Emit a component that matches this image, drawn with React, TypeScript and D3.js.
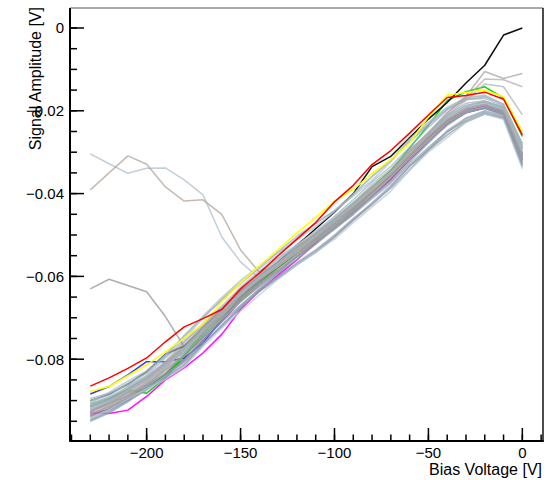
import React from "react";
import * as d3 from "d3";

const voltages = [-230,-220,-210,-200,-190,-180,-170,-160,-150,-140,-130,-120,-110,-100,-90,-80,-70,-60,-50,-40,-30,-20,-10,0];

const xMajorTicks = [-200, -150, -100, -50, 0];
const yMajorTicks = [0, -0.02, -0.04, -0.06, -0.08];
const xTitle = "Bias Voltage [V]";
const yTitle = "Signal Amplitude [V]";

// bundle of grey-ish channels
const g1 = [-0.0945,-0.0924,-0.0898,-0.0868,-0.0843,-0.0812,-0.0764,-0.0717,-0.0676,-0.0635,-0.0602,-0.0569,-0.0539,-0.0504,-0.0464,-0.0422,-0.0380,-0.0334,-0.0292,-0.0248,-0.0217,-0.0200,-0.0211,-0.0330];
const g2 = [-0.0910,-0.0894,-0.0866,-0.0845,-0.0807,-0.0765,-0.0722,-0.0677,-0.0637,-0.0595,-0.0558,-0.0527,-0.0497,-0.0458,-0.0422,-0.0378,-0.0340,-0.0294,-0.0253,-0.0210,-0.0182,-0.0176,-0.0191,-0.0285];
const g3 = [-0.0925,-0.0910,-0.0882,-0.0860,-0.0821,-0.0778,-0.0736,-0.0697,-0.0652,-0.0611,-0.0574,-0.0543,-0.0512,-0.0474,-0.0442,-0.0405,-0.0360,-0.0310,-0.0270,-0.0228,-0.0200,-0.0187,-0.0206,-0.0320];
const g4 = [-0.0900,-0.0887,-0.0860,-0.0830,-0.0794,-0.0751,-0.0701,-0.0655,-0.0615,-0.0581,-0.0548,-0.0508,-0.0472,-0.0441,-0.0406,-0.0368,-0.0323,-0.0272,-0.0231,-0.0194,-0.0167,-0.0164,-0.0186,-0.0280];
const g5 = [-0.0935,-0.0914,-0.0896,-0.0865,-0.0827,-0.0793,-0.0748,-0.0700,-0.0654,-0.0620,-0.0588,-0.0550,-0.0514,-0.0486,-0.0450,-0.0405,-0.0362,-0.0317,-0.0268,-0.0230,-0.0202,-0.0190,-0.0208,-0.0325];
const g6 = [-0.0920,-0.0905,-0.0876,-0.0852,-0.0812,-0.0775,-0.0732,-0.0683,-0.0642,-0.0608,-0.0568,-0.0535,-0.0504,-0.0465,-0.0430,-0.0392,-0.0355,-0.0302,-0.0256,-0.0218,-0.0194,-0.0185,-0.0196,-0.0305];
const g7 = [-0.0948,-0.0927,-0.0900,-0.0870,-0.0839,-0.0802,-0.0750,-0.0705,-0.0659,-0.0625,-0.0592,-0.0559,-0.0522,-0.0485,-0.0450,-0.0412,-0.0374,-0.0329,-0.0288,-0.0250,-0.0224,-0.0206,-0.0216,-0.0335];
const g8 = [-0.0915,-0.0900,-0.0878,-0.0845,-0.0805,-0.0760,-0.0716,-0.0675,-0.0634,-0.0600,-0.0567,-0.0530,-0.0494,-0.0463,-0.0428,-0.0390,-0.0352,-0.0307,-0.0261,-0.0218,-0.0189,-0.0177,-0.0193,-0.0292];
const g9 = [-0.0930,-0.0917,-0.0890,-0.0858,-0.0825,-0.0787,-0.0743,-0.0703,-0.0662,-0.0623,-0.0585,-0.0547,-0.0517,-0.0486,-0.0445,-0.0402,-0.0360,-0.0314,-0.0273,-0.0236,-0.0204,-0.0192,-0.0204,-0.0315];
const g10 = [-0.0905,-0.0884,-0.0858,-0.0835,-0.0791,-0.0743,-0.0698,-0.0658,-0.0618,-0.0578,-0.0540,-0.0503,-0.0472,-0.0441,-0.0400,-0.0358,-0.0320,-0.0275,-0.0234,-0.0196,-0.0174,-0.0166,-0.0184,-0.0282];
const g11 = [-0.0940,-0.0920,-0.0893,-0.0862,-0.0836,-0.0807,-0.0762,-0.0722,-0.0676,-0.0637,-0.0604,-0.0572,-0.0542,-0.0505,-0.0464,-0.0427,-0.0384,-0.0334,-0.0295,-0.0258,-0.0227,-0.0208,-0.0218,-0.0332];
const g12 = [-0.0922,-0.0902,-0.0883,-0.0858,-0.0820,-0.0777,-0.0726,-0.0685,-0.0645,-0.0605,-0.0568,-0.0537,-0.0507,-0.0476,-0.0435,-0.0393,-0.0350,-0.0299,-0.0258,-0.0220,-0.0192,-0.0180,-0.0198,-0.0310];
const g13 = [-0.0895,-0.0882,-0.0863,-0.0840,-0.0797,-0.0757,-0.0713,-0.0672,-0.0626,-0.0587,-0.0555,-0.0523,-0.0492,-0.0455,-0.0415,-0.0372,-0.0334,-0.0288,-0.0240,-0.0198,-0.0172,-0.0170,-0.0188,-0.0288];
const g14 = [-0.0932,-0.0912,-0.0886,-0.0855,-0.0815,-0.0770,-0.0720,-0.0680,-0.0640,-0.0607,-0.0575,-0.0543,-0.0512,-0.0480,-0.0440,-0.0398,-0.0355,-0.0310,-0.0268,-0.0226,-0.0197,-0.0184,-0.0201,-0.0315];
const g15 = [-0.0950,-0.0930,-0.0903,-0.0872,-0.0846,-0.0815,-0.0765,-0.0719,-0.0672,-0.0632,-0.0600,-0.0567,-0.0536,-0.0500,-0.0460,-0.0424,-0.0387,-0.0342,-0.0295,-0.0252,-0.0220,-0.0203,-0.0214,-0.0328];
const g16 = [-0.0912,-0.0892,-0.0873,-0.0848,-0.0815,-0.0780,-0.0736,-0.0690,-0.0644,-0.0603,-0.0570,-0.0538,-0.0500,-0.0463,-0.0422,-0.0385,-0.0348,-0.0302,-0.0256,-0.0213,-0.0187,-0.0179,-0.0191,-0.0290];
const g17 = [-0.0928,-0.0907,-0.0888,-0.0865,-0.0833,-0.0790,-0.0740,-0.0695,-0.0650,-0.0617,-0.0585,-0.0553,-0.0522,-0.0483,-0.0442,-0.0398,-0.0355,-0.0305,-0.0263,-0.0226,-0.0202,-0.0194,-0.0210,-0.0322];
const g18 = [-0.0908,-0.0890,-0.0868,-0.0842,-0.0810,-0.0773,-0.0728,-0.0687,-0.0640,-0.0600,-0.0562,-0.0525,-0.0490,-0.0458,-0.0425,-0.0388,-0.0350,-0.0305,-0.0260,-0.0218,-0.0190,-0.0182,-0.0198,-0.0300];
const g19 = [-0.0938,-0.0922,-0.0900,-0.0875,-0.0843,-0.0805,-0.0756,-0.0710,-0.0670,-0.0630,-0.0592,-0.0553,-0.0517,-0.0480,-0.0445,-0.0408,-0.0370,-0.0324,-0.0278,-0.0233,-0.0204,-0.0192,-0.0206,-0.0318];
const g20 = [-0.0902,-0.0880,-0.0853,-0.0828,-0.0789,-0.0745,-0.0696,-0.0651,-0.0610,-0.0575,-0.0543,-0.0511,-0.0480,-0.0444,-0.0403,-0.0360,-0.0318,-0.0268,-0.0228,-0.0191,-0.0170,-0.0162,-0.0184,-0.0278];
const g21 = [-0.0942,-0.0922,-0.0896,-0.0872,-0.0849,-0.0819,-0.0770,-0.0725,-0.0684,-0.0645,-0.0607,-0.0572,-0.0542,-0.0510,-0.0470,-0.0432,-0.0394,-0.0344,-0.0300,-0.0265,-0.0228,-0.0208,-0.0221,-0.0340];

// coloured channels
const redCh = [-0.0865,-0.0845,-0.0822,-0.0797,-0.0758,-0.0722,-0.0702,-0.0680,-0.0630,-0.0592,-0.0550,-0.0510,-0.0470,-0.0420,-0.0380,-0.0330,-0.0296,-0.0254,-0.0210,-0.0168,-0.0163,-0.0155,-0.0172,-0.0258];
const yellowCh = [-0.0878,-0.0866,-0.0840,-0.0814,-0.0782,-0.0749,-0.0715,-0.0662,-0.0616,-0.0575,-0.0535,-0.0495,-0.0458,-0.0418,-0.0390,-0.0352,-0.0318,-0.0278,-0.0215,-0.0162,-0.0156,-0.0150,-0.0166,-0.0250];
const blackCh = [-0.0900,-0.0885,-0.0860,-0.0830,-0.0788,-0.0768,-0.0725,-0.0680,-0.0635,-0.0600,-0.0565,-0.0525,-0.0485,-0.0445,-0.0400,-0.0335,-0.0310,-0.0265,-0.0220,-0.0180,-0.0133,-0.0090,-0.0017,0.0000];
const greenCh = [-0.0908,-0.0893,-0.0874,-0.0882,-0.0846,-0.0790,-0.0738,-0.0690,-0.0645,-0.0607,-0.0570,-0.0534,-0.0498,-0.0462,-0.0423,-0.0384,-0.0345,-0.0290,-0.0235,-0.0175,-0.0154,-0.0142,-0.0169,-0.0262];
const magentaCh = [-0.0929,-0.0931,-0.0923,-0.0890,-0.0850,-0.0821,-0.0785,-0.0740,-0.0680,-0.0635,-0.0597,-0.0560,-0.0520,-0.0485,-0.0445,-0.0405,-0.0365,-0.0315,-0.0268,-0.0226,-0.0198,-0.0188,-0.0205,-0.0310];
const blueCh = [-0.0884,-0.0866,-0.0838,-0.0806,-0.0806,-0.0797,-0.0761,-0.0705,-0.0650,-0.0610,-0.0572,-0.0538,-0.0505,-0.0470,-0.0432,-0.0392,-0.0352,-0.0304,-0.0260,-0.0220,-0.0195,-0.0185,-0.0200,-0.0305];
const cyanCh = [-0.0915,-0.0898,-0.0872,-0.0845,-0.0810,-0.0785,-0.0737,-0.0690,-0.0640,-0.0602,-0.0566,-0.0532,-0.0498,-0.0466,-0.0428,-0.0388,-0.0348,-0.0300,-0.0256,-0.0216,-0.0190,-0.0180,-0.0195,-0.0298];
const darkGreenCh = [-0.0925,-0.0905,-0.0880,-0.0872,-0.0835,-0.0792,-0.0745,-0.0700,-0.0655,-0.0615,-0.0578,-0.0545,-0.0512,-0.0476,-0.0438,-0.0398,-0.0356,-0.0310,-0.0264,-0.0222,-0.0196,-0.0186,-0.0200,-0.0305];
const purpleCh = [-0.0935,-0.0920,-0.0895,-0.0868,-0.0838,-0.0800,-0.0755,-0.0708,-0.0660,-0.0622,-0.0586,-0.0552,-0.0518,-0.0484,-0.0446,-0.0406,-0.0365,-0.0318,-0.0274,-0.0232,-0.0205,-0.0194,-0.0208,-0.0318];
const pinkCh = [-0.0932,-0.0915,-0.0888,-0.0860,-0.0825,-0.0790,-0.0748,-0.0705,-0.0660,-0.0620,-0.0580,-0.0545,-0.0510,-0.0475,-0.0438,-0.0398,-0.0358,-0.0310,-0.0266,-0.0225,-0.0198,-0.0188,-0.0204,-0.0312];
const lightGreenCh = [-0.0912,-0.0895,-0.0870,-0.0842,-0.0808,-0.0770,-0.0722,-0.0680,-0.0637,-0.0600,-0.0565,-0.0530,-0.0497,-0.0462,-0.0425,-0.0385,-0.0345,-0.0298,-0.0254,-0.0214,-0.0188,-0.0178,-0.0192,-0.0292];

// outlying channels
const greyLowStart = [-0.0630,-0.0607,-0.0622,-0.0637,-0.0697,-0.0770,-0.0730,-0.0688,-0.0648,-0.0610,-0.0575,-0.0540,-0.0508,-0.0472,-0.0435,-0.0395,-0.0355,-0.0308,-0.0262,-0.0222,-0.0195,-0.0185,-0.0200,-0.0305];
const blueHighStart = [-0.0304,-0.0328,-0.0351,-0.0339,-0.0338,-0.0367,-0.0403,-0.0505,-0.0565,-0.0605,-0.0575,-0.0540,-0.0505,-0.0470,-0.0432,-0.0392,-0.0352,-0.0305,-0.0260,-0.0220,-0.0195,-0.0185,-0.0198,-0.0302];
const tanHighStart = [-0.0391,-0.0350,-0.0309,-0.0329,-0.0384,-0.0418,-0.0415,-0.0450,-0.0536,-0.0590,-0.0572,-0.0538,-0.0506,-0.0472,-0.0434,-0.0394,-0.0354,-0.0306,-0.0262,-0.0222,-0.0196,-0.0186,-0.0200,-0.0305];
const greyHighEnd1 = [-0.0915,-0.0898,-0.0872,-0.0845,-0.0810,-0.0772,-0.0725,-0.0682,-0.0638,-0.0600,-0.0565,-0.0530,-0.0497,-0.0462,-0.0425,-0.0385,-0.0345,-0.0298,-0.0255,-0.0205,-0.0165,-0.0105,-0.0122,-0.0110];
const rosyHighEnd2 = [-0.0925,-0.0905,-0.0880,-0.0852,-0.0818,-0.0780,-0.0732,-0.0690,-0.0645,-0.0607,-0.0572,-0.0537,-0.0503,-0.0468,-0.0430,-0.0390,-0.0350,-0.0300,-0.0252,-0.0205,-0.0170,-0.0123,-0.0125,-0.0142];
const greyHighEnd3 = [-0.0918,-0.0900,-0.0875,-0.0848,-0.0813,-0.0775,-0.0728,-0.0685,-0.0640,-0.0603,-0.0568,-0.0533,-0.0500,-0.0465,-0.0428,-0.0388,-0.0348,-0.0300,-0.0254,-0.0210,-0.0175,-0.0135,-0.0142,-0.0210];

// drawn first (mostly hidden inside the bundle)
const underSeries = [
  { values: lightGreenCh, color: "#88c070" },
  { values: pinkCh, color: "#e0a0c0" },
  { values: purpleCh, color: "#9050a0" },
  { values: darkGreenCh, color: "#2a9a2a" },
  { values: cyanCh, color: "#60d0e0" },
  { values: blueCh, color: "#3030e0" },
  { values: magentaCh, color: "#ff00ff" },
  { values: greenCh, color: "#00d000" },
  { values: blackCh, color: "#000000" },
];

const greySeries = [
  { values: g1, color: "#90a4bc" },
  { values: g2, color: "#a3a8ae" },
  { values: g3, color: "#8a9cb0" },
  { values: g4, color: "#b0bccb" },
  { values: g5, color: "#a79e94" },
  { values: g6, color: "#94aac4" },
  { values: g7, color: "#8fa3a8" },
  { values: g8, color: "#b5aaaa" },
  { values: g9, color: "#9fb0a4" },
  { values: g10, color: "#9cacc8" },
  { values: g11, color: "#8e949c" },
  { values: g12, color: "#a6b8cc" },
  { values: g13, color: "#98b0c4" },
  { values: g14, color: "#b0a8a0" },
  { values: g15, color: "#8aa0b8" },
  { values: g16, color: "#a2b6cc" },
  { values: g17, color: "#9a9ca0" },
  { values: g18, color: "#b6c4d2" },
  { values: g19, color: "#8498b4" },
  { values: g20, color: "#a8bcb8" },
  { values: g21, color: "#b8c6d0" },
  { values: greyLowStart, color: "#8f8f8f" },
  { values: blueHighStart, color: "#a9bccb" },
  { values: tanHighStart, color: "#ae9f92" },
  { values: greyHighEnd1, color: "#a0a0a8" },
  { values: rosyHighEnd2, color: "#b8a8a8" },
  { values: greyHighEnd3, color: "#a8b0b8" },
];

const overSeries = [
  { values: yellowCh, color: "#ffff00" },
  { values: redCh, color: "#ff0000" },
];

const W = 554;
const H = 480;
const left = 70, right = 543, top = 8, bottom = 441;

const fmt = (v: number) => {
  if (v === 0) return "0";
  const s = Math.abs(v) < 1 ? Math.abs(v).toFixed(2) : String(Math.abs(v));
  return (v < 0 ? "\u2212" : "") + s;
};

export default function App() {
  const x = d3.scaleLinear().domain([-240.8, 11.0]).range([left, right]);
  const y = d3.scaleLinear().domain([-0.09976, 0.00483]).range([bottom, top]);
  const line = d3
    .line<number>()
    .x((_, i) => x(voltages[i]))
    .y((d) => y(d));

  const xMinor = d3.range(-240, 11, 10);
  const yMinor = d3.range(-0.095, 0.0001, 0.005);
  const font = "'Liberation Sans', Arial, sans-serif";

  const renderGroup = (arr: { values: number[]; color: string }[], key: string, op: number) =>
    arr.map((s, i) => (
      <path key={key + i} d={line(s.values) || ""} stroke={s.color} strokeOpacity={op} />
    ));

  return (
    <svg
      width={W}
      height={H}
      style={{ position: "absolute", left: 0, top: 0, background: "#fff" }}
      fontFamily={font}
    >
      <rect x={0} y={0} width={W} height={H} fill="#fff" />
      <g fill="none" strokeWidth={1.5} strokeLinejoin="round">
        {renderGroup(underSeries, "u", 0.95)}
        {renderGroup(greySeries, "g", 0.72)}
        {renderGroup(overSeries, "o", 1)}
      </g>
      {/* frame */}
      <line x1={left} x2={right} y1={top} y2={top} stroke="#555" strokeWidth={1} />
      <line x1={right} x2={right} y1={top} y2={bottom} stroke="#111" strokeWidth={1.5} />
      <line x1={left} x2={left} y1={top} y2={bottom + 0.75} stroke="#000" strokeWidth={2} />
      <line x1={left} x2={right + 0.75} y1={bottom} y2={bottom} stroke="#000" strokeWidth={2} />
      {/* x ticks */}
      {xMinor.map((v) => (
        <line key={"xm" + v} x1={x(v)} x2={x(v)} y1={bottom} y2={bottom - 6.5} stroke="#000" strokeWidth={1.5} />
      ))}
      {xMajorTicks.map((v) => (
        <g key={"xM" + v}>
          <line x1={x(v)} x2={x(v)} y1={bottom} y2={bottom - 13} stroke="#000" strokeWidth={1.5} />
          <text x={x(v)} y={457.5} textAnchor="middle" fontSize={15} fill="#000">
            {fmt(v)}
          </text>
        </g>
      ))}
      {/* y ticks */}
      {yMinor.map((v, i) => (
        <line key={"ym" + i} x1={left} x2={left + 7} y1={y(v)} y2={y(v)} stroke="#000" strokeWidth={1.5} />
      ))}
      {yMajorTicks.map((v) => (
        <g key={"yM" + v}>
          <line x1={left} x2={left + 14} y1={y(v)} y2={y(v)} stroke="#000" strokeWidth={1.5} />
          <text x={64} y={y(v)} dy="0.36em" textAnchor="end" fontSize={15} fill="#000">
            {fmt(v)}
          </text>
        </g>
      ))}
      <text x={542} y={475} textAnchor="end" fontSize={16} fill="#000">
        {xTitle}
      </text>
      <text transform="translate(40.5,7) rotate(-90)" textAnchor="end" fontSize={16} fill="#000">
        {yTitle}
      </text>
    </svg>
  );
}
